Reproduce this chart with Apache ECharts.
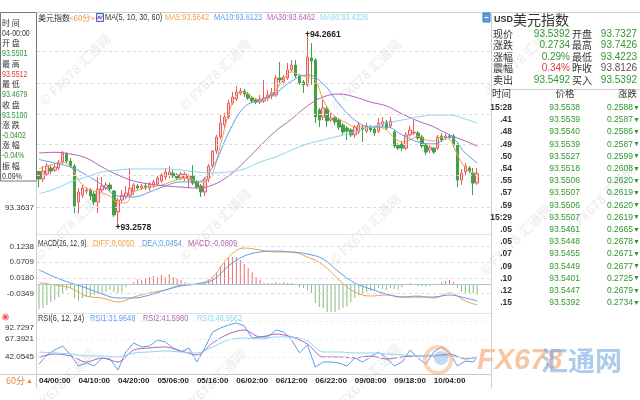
<!DOCTYPE html>
<html><head><meta charset="utf-8">
<script src="https://cdn.jsdelivr.net/npm/echarts/dist/echarts.min.js"></script>
<style>html,body{margin:0;padding:0;background:#fff;}#c{width:640px;height:400px;}</style>
</head><body><div id="c"></div>
<script>
// ---------------- DATA ----------------
const daySegments = [['04',0,23],['05',0,23],['06',0,23],['07',0,4],['09',5,23],['10',0,15]];
const xTickIdx = [0,10,20,30,40,50,60,70,80,90,100];

const opens = [93.5501,93.510,93.536,93.568,93.557,93.568,93.599,93.641,93.604,93.578,
93.390,93.426,93.447,93.453,93.432,93.390,93.453,93.463,93.479,93.447,
93.338,93.400,93.421,93.426,93.442,93.474,93.463,93.474,93.463,93.479,
93.484,93.500,93.521,93.531,93.541,93.531,93.515,93.515,93.505,93.526,
93.494,93.474,93.442,93.510,93.578,93.657,93.730,93.793,93.835,93.908,
93.929,93.961,93.971,93.955,93.934,93.924,93.913,93.919,93.934,93.945,
93.950,94.039,94.018,94.039,94.081,94.107,94.050,94.018,94.003,94.144,
94.133,93.872,93.835,93.877,93.819,93.830,93.819,93.793,93.777,93.767,
93.741,93.756,93.777,93.761,93.782,93.772,93.761,93.793,93.809,93.788,
93.756,93.688,93.693,93.672,93.741,93.751,93.751,93.730,93.688,93.662,
93.672,93.672,93.735,93.725,93.735,93.735,93.688,93.505,93.547,93.568,
93.541,93.489];
const closes = [93.5100,93.552,93.578,93.552,93.573,93.599,93.646,93.604,93.578,93.369,
93.442,93.463,93.453,93.421,93.390,93.458,93.474,93.479,93.458,93.322,
93.400,93.426,93.437,93.463,93.479,93.463,93.474,93.468,93.484,93.494,
93.515,93.531,93.547,93.547,93.526,93.515,93.536,93.536,93.526,93.489,
93.468,93.442,93.510,93.578,93.657,93.730,93.803,93.835,93.908,93.939,
93.966,93.971,93.955,93.934,93.919,93.913,93.929,93.934,93.950,93.961,
94.039,94.029,94.044,94.081,94.107,94.050,94.013,94.003,94.149,94.128,
93.835,93.819,93.882,93.814,93.830,93.809,93.782,93.756,93.761,93.741,
93.782,93.793,93.772,93.788,93.767,93.751,93.803,93.809,93.777,93.814,
93.683,93.672,93.672,93.741,93.767,93.756,93.725,93.683,93.651,93.677,
93.651,93.730,93.714,93.735,93.730,93.688,93.505,93.541,93.578,93.552,
93.489,93.5392];
const lows = [93.4679,93.494,93.526,93.536,93.547,93.557,93.589,93.594,93.568,93.332,
93.332,93.411,93.432,93.400,93.374,93.332,93.442,93.453,93.447,93.311,
93.2578,93.385,93.405,93.416,93.426,93.453,93.453,93.453,93.447,93.463,
93.474,93.489,93.505,93.515,93.515,93.505,93.505,93.500,93.463,93.479,
93.458,93.416,93.421,93.494,93.568,93.641,93.720,93.777,93.824,93.898,
93.919,93.950,93.940,93.924,93.908,93.903,93.903,93.908,93.919,93.929,
93.940,94.003,94.003,94.029,94.071,94.039,94.003,93.961,93.992,94.003,
93.803,93.782,93.819,93.782,93.809,93.793,93.767,93.741,93.714,93.730,
93.725,93.746,93.704,93.751,93.756,93.735,93.751,93.782,93.767,93.777,
93.672,93.662,93.657,93.662,93.730,93.741,93.714,93.672,93.636,93.646,
93.641,93.662,93.704,93.714,93.720,93.677,93.468,93.479,93.531,93.541,
93.426,93.479];
const highs = [93.5512,93.578,93.594,93.583,93.589,93.610,93.657,93.651,93.620,93.589,
93.463,93.479,93.468,93.463,93.447,93.521,93.521,93.494,93.489,93.453,
93.411,93.453,93.474,93.568,93.489,93.484,93.484,93.489,93.494,93.505,
93.531,93.541,93.568,93.578,93.557,93.541,93.547,93.547,93.536,93.583,
93.505,93.484,93.521,93.589,93.662,93.741,93.845,93.856,93.924,93.966,
93.997,93.987,93.982,93.966,93.945,93.934,93.950,94.029,93.976,93.987,
94.055,94.123,94.055,94.118,94.133,94.133,94.060,94.029,94.2661,94.222,
94.144,93.882,93.924,93.892,93.856,93.840,93.830,93.803,93.788,93.777,
93.793,93.809,93.793,93.803,93.793,93.782,93.830,93.835,93.819,93.835,
93.767,93.698,93.709,93.756,93.788,93.819,93.761,93.741,93.698,93.688,
93.677,93.741,93.751,93.746,93.746,93.746,93.698,93.562,93.594,93.578,
93.568,93.568];

const idx2 = [0,2,4,6,8,10,12,14,16,18,20,22,24,26,28,30,32,34,36,38,40,42,44,46,48,50,52,54,56,58,60,62,64,66,68,70,72,74,76,78,80,82,84,86,88,90,92,94,96,98,100,102,104,106,108,110,111];
const idx4 = [0,4,8,12,16,20,24,28,32,36,40,44,48,52,56,60,64,68,72,76,80,84,88,92,96,100,104,108,111];

const ma5 = [93.5642,93.578,93.589,93.599,93.578,93.505,93.463,93.447,93.437,93.421,
93.385,93.385,93.442,93.458,93.468,93.474,93.484,93.500,93.510,93.516,
93.495,93.495,93.540,93.690,93.850,93.950,93.966,93.940,93.924,93.940,
93.976,94.034,94.071,94.055,94.044,94.029,93.924,93.856,93.824,93.803,
93.783,93.783,93.783,93.783,93.767,93.725,93.704,93.715,93.735,93.715,
93.709,93.730,93.720,93.636,93.568,93.542,93.542];
const ma10 = [93.6123,93.594,93.573,93.531,93.479,93.421,93.416,93.442,93.474,93.495,
93.495,93.573,93.751,93.887,93.924,93.961,94.023,94.055,94.008,93.903,
93.819,93.783,93.783,93.741,93.704,93.694,93.730,93.646,93.594];
const ma30 = [93.6462,93.650,93.641,93.620,93.573,93.531,93.500,93.484,93.474,93.468,
93.463,93.479,93.526,93.599,93.683,93.762,93.824,93.893,93.940,93.955,
93.940,93.913,93.893,93.851,93.814,93.783,93.741,93.709,93.683];
const ma60 = [93.4326,93.458,93.495,93.521,93.547,93.557,93.563,93.563,93.563,93.557,
93.547,93.542,93.547,93.563,93.599,93.626,93.662,93.694,93.715,93.735,
93.756,93.783,93.803,93.819,93.835,93.845,93.845,93.824,93.803];

const diff = [0.0050,-0.0032,-0.0128,-0.0385,-0.0449,-0.0577,-0.0417,-0.0288,-0.0192,-0.0032,
0.0000,0.0224,0.0865,0.1154,0.1090,0.1026,0.1026,0.0865,0.0609,0.0128,
-0.0256,-0.0385,-0.0353,-0.0417,-0.0385,-0.0449,-0.0288,-0.0545,-0.0673];
const dea = [0.0454,0.0224,0.0032,-0.0128,-0.0321,-0.0449,-0.0449,-0.0353,-0.0192,-0.0064,
0.0000,0.0128,0.0577,0.0897,0.1026,0.1058,0.1026,0.0962,0.0801,0.0385,
0.0032,-0.0160,-0.0321,-0.0417,-0.0417,-0.0417,-0.0353,-0.0449,-0.0545];
const macdHist = [-0.0809,-0.077,-0.067,-0.058,-0.051,-0.042,-0.029,-0.019,-0.013,-0.045,
-0.054,-0.045,-0.042,-0.042,-0.035,-0.032,-0.029,-0.026,-0.019,-0.026,
-0.029,-0.026,-0.010,-0.003,0.006,0.016,0.013,0.019,0.022,0.026,
0.022,0.029,0.022,0.032,0.022,0.019,0.013,0.006,0.003,0.000,
-0.002,0.001,0.003,0.013,0.022,0.038,0.058,0.071,0.083,0.087,
0.087,0.077,0.064,0.051,0.038,0.022,0.013,0.003,0.003,0.003,
0.006,0.003,0.006,0.003,0.003,0.000,-0.010,-0.013,-0.019,-0.029,
-0.061,-0.074,-0.077,-0.090,-0.090,-0.090,-0.083,-0.077,-0.071,-0.058,
-0.045,-0.035,-0.029,-0.026,-0.022,-0.019,-0.013,-0.016,-0.019,-0.013,
-0.016,-0.019,-0.010,-0.003,0.003,-0.003,-0.006,-0.008,-0.008,-0.006,
-0.003,0.001,0.006,0.010,0.013,0.006,-0.013,-0.026,-0.029,-0.029,
-0.029,-0.035];

const rsi1 = [31.9648,44.87,51.91,57.54,44.87,29.38,33.61,29.38,40.65,39.24,
23.75,49.09,61.77,56.13,57.54,65.99,63.17,54.73,49.09,54.73,
35.01,54.73,77.25,82.89,87.11,89.93,85.70,68.81,70.21,70.21,
80.07,77.25,65.99,47.69,58.95,27.97,35.01,35.01,33.61,29.38,
40.65,35.01,42.05,49.09,40.65,29.38,35.01,51.91,40.65,32.20,
49.09,56.13,47.69,29.38,36.42,35.01,42.05];
const rsi2 = [41.5980,46.28,43.46,35.01,40.65,35.01,51.91,54.73,56.13,50.50,
44.87,61.77,74.44,80.07,70.21,74.44,70.21,60.36,42.05,42.05,
40.65,43.46,39.24,42.05,43.46,43.46,46.28,39.24,42.05];
const rsi3 = [48.9562,47.69,46.28,43.46,43.46,42.05,47.69,49.09,50.50,49.09,
47.69,56.13,65.99,68.81,67.40,70.21,70.21,64.58,49.09,49.09,
47.69,47.69,46.28,44.87,43.46,44.87,43.46,40.65,40.65];

const mainTickVals = [93.3637,93.5260,93.6883,93.8506,94.0129,94.1752,94.3375];
const mainTickLabels = ['93.3637','93.5260','93.6883','93.8506','94.0129','94.1752','94.3375'];
const macdTickVals = [0.1238,0.0709,0.0180,-0.0349];
const macdTickLabels = ['0.1238','0.0709','0.0180','-0.0349'];
const rsiTickVals = [92.7297,67.3921,42.0545];
const rsiTickLabels = ['92.7297','67.3921','42.0545'];

const infoLabels = ['时 间','开 盘','最 高','最 低','收 盘','涨 跌','涨 幅','振 幅'];
const infoValues = ['04-00:00','93.5501','93.5512','93.4679','93.5100','-0.0402','-0.04%','0.09%'];

const quoteLabelsL = ['现价','涨跌','涨幅','震幅','卖出'];
const quoteValsL = ['93.5392','0.2734','0.29%','0.34%','93.5492'];
const quoteLabelsR = ['开盘','最高','最低','昨收','买入'];
const quoteValsR = ['93.7327','93.7426','93.4223','93.8126','93.5392'];

const tickTimes = ['15:28','.41','.48','.49','.50','.54','.55','.57','.59','15:29','.05','.05','.07','.09','.10','.12','.15'];
const tickPrices = ['93.5538','93.5539','93.5540','93.5539','93.5527','93.5518','93.5506','93.5507','93.5506','93.5507','93.5461','93.5448','93.5455','93.5449','93.5401','93.5447','93.5392'];
const tickChanges = ['0.2588','0.2587','0.2586','0.2587','0.2599','0.2608','0.2620','0.2619','0.2620','0.2619','0.2665','0.2678','0.2671','0.2677','0.2725','0.2679','0.2734'];

// ---------------- BUILD ----------------
const SANS = '"Liberation Sans",Arial,sans-serif';
const CJK = '"Noto Sans CJK SC","Noto Sans",sans-serif';
const ORANGE = '#f3a04e', BLUE = '#5d9ded', PURPLE = '#b462b4', CYAN = '#8cd6ee';
const GREEN = '#2f982f', RED = '#e53b3b', DARK = '#333';
const SX = 0.78;

const times = [];
daySegments.forEach(([d, a, b]) => { for (let h = a; h <= b; h++) times.push(d + '/' + String(h).padStart(2, '0') + ':00'); });
const cats = times.concat([' ', '  ', '   ']);

const candles = opens.map((o, i) => [o, closes[i], lows[i], highs[i]]);
const pairs = (idx, arr) => idx.map((k, j) => [k, arr[j]]);
let hiIdx = 0, loIdx = 0;
highs.forEach((v, i) => { if (v > highs[hiIdx]) hiIdx = i; });
lows.forEach((v, i) => { if (v < lows[loIdx]) loIdx = i; });

function tickLines(vals, labels, dashColor, topFirst) {
  return {
    silent: true, symbol: ['none', 'none'], animation: false,
    lineStyle: { color: dashColor, type: [3, 3], width: 1 },
    label: { show: true, position: 'start', distance: 3, color: DARK, fontSize: 8, fontFamily: SANS },
    data: vals.map((v, i) => ({ yAxis: v, label: (i === 0 && topFirst) ? { formatter: labels[i], verticalAlign: 'top', offset: [0, 3] } : { formatter: labels[i] } }))
  };
}

const G = { left: 37, right: 149, outerBoundsMode: 'none' };
const grids = [
  Object.assign({ top: 21, height: 211 }, G),
  Object.assign({ top: 245.4, height: 67.3 }, G),
  Object.assign({ top: 320, height: 54 }, G)
];
const xAxes = [0, 1, 2].map(g => ({
  type: 'category', gridIndex: g, data: cats, boundaryGap: true,
  axisLine: { show: g === 2, lineStyle: { color: '#c8c8c8' } },
  axisTick: { show: false }, splitLine: { show: false },
  axisLabel: g === 2 ? {
    show: true, interval: (i) => xTickIdx.indexOf(i) >= 0, align: 'left', margin: 3,
    color: '#222', fontSize: 8, fontWeight: 'bold', fontFamily: SANS
  } : { show: false }
}));
const yAxes = [
  { gridIndex: 0, min: 93.2328, max: 94.3375 },
  { gridIndex: 1, min: -0.092, max: 0.1238 },
  { gridIndex: 2, min: 18.1, max: 94.1 }
].map(a => Object.assign({ type: 'value', scale: false, axisLine: { show: false }, axisTick: { show: false }, axisLabel: { show: false }, splitLine: { show: false } }, a));

function lineSeries(name, data, color, xi, smooth) {
  return { name, type: 'line', xAxisIndex: xi, yAxisIndex: xi, data, showSymbol: false, symbol: 'none', smooth: smooth,
    lineStyle: { color, width: 1 }, itemStyle: { color }, z: 3, animation: false };
}

const series = [
  { type: 'candlestick', xAxisIndex: 0, yAxisIndex: 0, data: candles, barWidth: 3,
    itemStyle: { color: '#fbd5d5', color0: '#45a045', borderColor: '#ea5d5d', borderColor0: '#45a045', borderWidth: 1 },
    markLine: tickLines(mainTickVals, mainTickLabels, '#dcdcdc'),
    markPoint: { symbol: 'circle', symbolSize: 1, itemStyle: { color: 'rgba(0,0,0,0)' }, animation: false,
      label: { show: true, position: 'right', distance: -3, color: '#222', fontSize: 8.5, fontWeight: 'bold', fontFamily: SANS,
        formatter: p => '+' + p.value.toFixed(4) },
      data: [{ coord: [hiIdx, highs[hiIdx]], value: highs[hiIdx] }, { coord: [loIdx, lows[loIdx]], value: lows[loIdx] }] },
    animation: false, z: 2 },
  lineSeries('MA5', pairs(idx2, ma5), ORANGE, 0, 0.3),
  lineSeries('MA10', pairs(idx4, ma10), BLUE, 0, 0.4),
  lineSeries('MA30', pairs(idx4, ma30), PURPLE, 0, 0.4),
  lineSeries('MA60', pairs(idx4, ma60), CYAN, 0, 0.4),
  { type: 'bar', xAxisIndex: 1, yAxisIndex: 1, data: macdHist, barWidth: 1, animation: false,
    itemStyle: { color: p => p.value >= 0 ? '#ea6e6e' : '#84bd7a' },
    markLine: (() => { const m = tickLines(macdTickVals, macdTickLabels, '#dcdcdc');
      m.data.push({ yAxis: 0, label: { show: false }, lineStyle: { color: '#a9c6de', type: 'solid', width: 1 } }); return m; })() },
  lineSeries('DIFF', pairs(idx4, diff), ORANGE, 1, 0.4),
  lineSeries('DEA', pairs(idx4, dea), BLUE, 1, 0.4),
  Object.assign(lineSeries('RSI1', pairs(idx2, rsi1), BLUE, 2, false), { markLine: tickLines(rsiTickVals, rsiTickLabels, '#eeeeee', true) }),
  lineSeries('RSI2', pairs(idx4, rsi2), PURPLE, 2, 0.3),
  lineSeries('RSI3', pairs(idx4, rsi3), CYAN, 2, 0.3)
];

// -------- graphic (frame, texts) --------
const gfx = [];
const txt = (x, y, text, fill, font, align, z, sx) => gfx.push({ type: 'text', x, y, z: z || 110, silent: true, scaleX: sx || 1,
  style: { text, fill, font, align: align || 'left', verticalAlign: 'middle' } });
const ln = (x1, y1, x2, y2, stroke, z) => gfx.push({ type: 'line', z: z || 60, silent: true, shape: { x1, y1, x2, y2 }, style: { stroke, lineWidth: 1 } });

// watermarks
const wmPos = [[75,70],[215,75],[365,75],[520,60],[70,225],[215,225],[365,230],[515,240],[60,385],[210,385],[365,380],[600,200]];
wmPos.forEach(([x, y]) => gfx.push({ type: 'text', x, y, rotation: Math.PI / 4, z: 1, silent: true,
  style: { text: '© FX678 汇通网', fill: 'rgba(120,120,120,0.12)', font: 'bold 13px ' + CJK, align: 'center', verticalAlign: 'middle' } }));

// frame
ln(0, 12.5, 640, 12.5, '#cfcfcf');
ln(36.5, 12.5, 36.5, 388, '#cfcfcf');
ln(491.5, 12.5, 491.5, 388, '#cfcfcf');
ln(37, 234.5, 491, 234.5, '#e2e2e2');
ln(37, 313.5, 491, 313.5, '#e2e2e2');
ln(0, 374.5, 37, 374.5, '#cfcfcf');
ln(491.5, 89.5, 640, 89.5, '#cfcfcf');

// info box
gfx.push({ type: 'rect', z: 100, silent: true, shape: { x: 0.5, y: 12.5, width: 36, height: 168.5 }, style: { fill: '#fff', stroke: '#777', lineWidth: 1 } });
const infoColors = [DARK, GREEN, RED, GREEN, GREEN, GREEN, GREEN, DARK];
infoLabels.forEach((l, k) => {
  txt(2, 23 + 20.4 * k, l, DARK, '8px ' + CJK);
  txt(2, 33.5 + 20.4 * k, infoValues[k], infoColors[k], '9px ' + SANS, 'left', 110, SX);
});

// main title row
txt(38, 17.5, '美元指数', DARK, '8px ' + CJK);
txt(69, 17.5, '<60分>', '#ef8a3a', '8px ' + CJK);
gfx.push({ type: 'rect', z: 110, silent: true, shape: { x: 96.5, y: 13.5, width: 7, height: 8 }, style: { fill: '#dfe7fa', stroke: '#3d63bf', lineWidth: 1 } });
gfx.push({ type: 'polyline', z: 111, silent: true, shape: { points: [[97.5, 19], [99, 16], [100.5, 19], [102.5, 15.5]] }, style: { stroke: '#b0308f', lineWidth: 1, fill: null } });
txt(105, 17.5, 'MA(5, 10, 30, 60)', DARK, '9.5px ' + SANS, 'left', 110, SX);
txt(165, 17.5, 'MA5:' + ma5[0].toFixed(4), ORANGE, '9.5px ' + SANS, 'left', 110, SX);
txt(214, 17.5, 'MA10:' + ma10[0].toFixed(4), BLUE, '9.5px ' + SANS, 'left', 110, SX);
txt(267, 17.5, 'MA30:' + ma30[0].toFixed(4), PURPLE, '9.5px ' + SANS, 'left', 110, SX);
txt(320, 17.5, 'MA60:' + ma60[0].toFixed(4), CYAN, '9.5px ' + SANS, 'left', 110, SX);
gfx.push({ type: 'rect', z: 110, silent: true, shape: { x: 483, y: 13, width: 7, height: 9 }, style: { fill: '#5b9fe2', stroke: '#3c7cc0', lineWidth: 1 } });
ln(484.5, 17.5, 488.5, 17.5, '#fff', 111);

// MACD title
txt(38, 243, 'MACD(26, 12, 9)', DARK, '9.5px ' + SANS, 'left', 110, 0.68);
txt(93, 243, 'DIFF:' + diff[0].toFixed(4), ORANGE, '9.5px ' + SANS, 'left', 110, SX);
txt(142, 243, 'DEA:' + dea[0].toFixed(4), BLUE, '9.5px ' + SANS, 'left', 110, SX);
txt(188, 243, 'MACD:' + macdHist[0].toFixed(4), PURPLE, '9.5px ' + SANS, 'left', 110, SX);

// RSI title
gfx.push({ type: 'circle', z: 110, silent: true, shape: { cx: 5.5, cy: 317, r: 2.5 }, style: { fill: '#f04040', stroke: '#f9a0a0', lineWidth: 2 } });
txt(38, 318, 'RSI(6, 12, 24)', DARK, '9.5px ' + SANS, 'left', 110, SX);
txt(90, 318, 'RSI1:' + rsi1[0].toFixed(4), BLUE, '9.5px ' + SANS, 'left', 110, SX);
txt(143, 318, 'RSI2:' + rsi2[0].toFixed(4), PURPLE, '9.5px ' + SANS, 'left', 110, SX);
txt(197, 318, 'RSI3:' + rsi3[0].toFixed(4), CYAN, '9.5px ' + SANS, 'left', 110, SX);

// period switch
txt(6, 381, '60分', '#ef8330', '9px ' + CJK);
txt(26, 381, '▲', '#ef8330', '7px ' + SANS);

// right panel
txt(494, 20, 'USD', DARK, 'bold 9px ' + SANS);
txt(513, 19.5, '美元指数', DARK, '14px ' + CJK);
const qColL = [GREEN, GREEN, GREEN, RED, GREEN];
const qColR = [GREEN, GREEN, GREEN, '#555', GREEN];
quoteLabelsL.forEach((l, k) => {
  const y = 34 + 11.5 * k;
  txt(493, y, l, DARK, '10px ' + CJK);
  txt(570, y, quoteValsL[k], qColL[k], '10px ' + SANS, 'right');
  txt(572, y, quoteLabelsR[k], DARK, '10px ' + CJK);
  txt(637, y, quoteValsR[k], qColR[k], '10px ' + SANS, 'right');
});
txt(492, 93.5, '时间', DARK, '9.5px ' + CJK);
txt(565, 93.5, '价格', DARK, '9.5px ' + CJK, 'center');
txt(637, 93.5, '涨跌', DARK, '9.5px ' + CJK, 'right');
tickTimes.forEach((t, k) => {
  const y = 107.7 + 12.2 * k;
  txt(512, y, t, DARK, 'bold 8.5px ' + SANS, 'right');
  txt(580, y, tickPrices[k], GREEN, '8.5px ' + SANS, 'right');
  txt(633, y, tickChanges[k], GREEN, '8.5px ' + SANS, 'right');
  txt(636.5, y, '▼', GREEN, '7px ' + SANS, 'center');
});

// big logo
gfx.push({ type: 'circle', z: 50, silent: true, shape: { cx: 438, cy: 360, r: 13 }, style: { fill: 'rgba(0,0,0,0)', stroke: 'rgba(245,170,110,0.5)', lineWidth: 4 } });
gfx.push({ type: 'circle', z: 50, silent: true, shape: { cx: 441, cy: 358, r: 7 }, style: { fill: 'rgba(110,160,220,0.4)' } });
txt(477, 361, 'FX678', 'rgba(244,152,90,0.55)', 'italic bold 29px ' + SANS, 'left', 50);
txt(541, 361, '汇通网', 'rgba(105,160,220,0.55)', 'bold 27px ' + CJK, 'left', 50);

const chart = echarts.init(document.getElementById('c'), null, { renderer: 'canvas' });
chart.setOption({
  animation: false, backgroundColor: '#fff',
  grid: grids, xAxis: xAxes, yAxis: yAxes, series, graphic: { elements: gfx }
});
</script></body></html>
